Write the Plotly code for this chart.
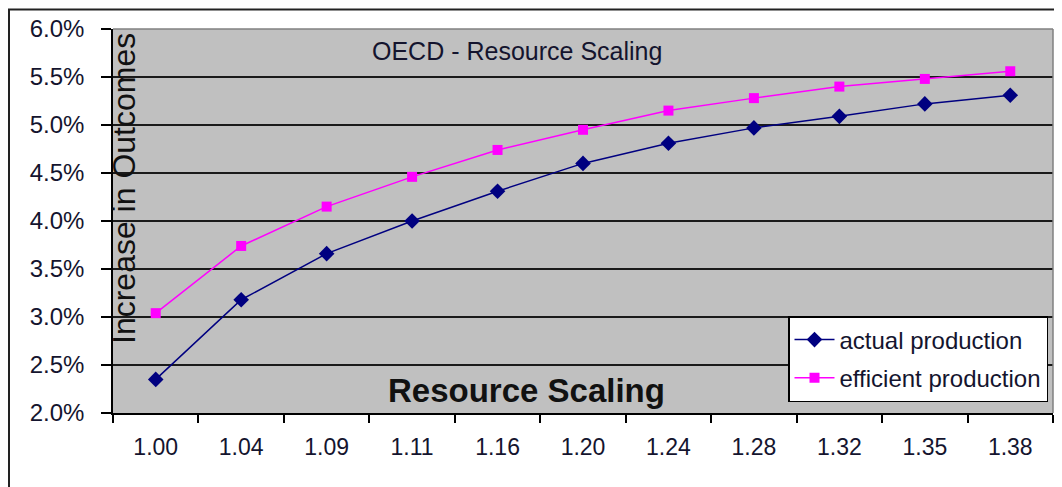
import plotly.graph_objects as go

categories = ["1.00", "1.04", "1.09", "1.11", "1.16", "1.20", "1.24", "1.28", "1.32", "1.35", "1.38"]
actual_production = [0.0235, 0.0318, 0.0366, 0.0400, 0.0431, 0.0460, 0.0481, 0.0497, 0.0509, 0.0522, 0.0531]
efficient_production = [0.0304, 0.0374, 0.0415, 0.0446, 0.0474, 0.0495, 0.0515, 0.0528, 0.0540, 0.0548, 0.0556]
y_ticks = [0.020, 0.025, 0.030, 0.035, 0.040, 0.045, 0.050, 0.055, 0.060]

FONT = "Arial, Liberation Sans, sans-serif"
TXT = "#14142e"

# page body has an 8px default margin; compensate so the chart lands where intended
OFF = 8
FW, FH = 1062 - OFF, 487 - OFF

fig = go.Figure()
fig.add_trace(go.Scatter(
    x=categories, y=actual_production, name="actual production",
    mode="lines+markers", legendgroup="a",
    line=dict(color="#000080", width=1.5),
    marker=dict(symbol="diamond", size=12, color="#000080"),
))
fig.add_trace(go.Scatter(
    x=categories, y=efficient_production, name="efficient production",
    mode="lines+markers", legendgroup="b",
    line=dict(color="#FF00FF", width=1.5),
    marker=dict(symbol="square", size=10, color="#FF00FF"),
))

# target plot-area edges in page pixels
L, R, T, B = 113, 1053, 29, 413
W, H = R - L, B - T

def px(x):
    return (x - L) / W

def py(y):
    return (B - y) / H

fig.update_layout(
    width=FW, height=FH,
    margin=dict(l=L - OFF, r=(FW + OFF) - R, t=T - OFF, b=(FH + OFF) - B, pad=0),
    paper_bgcolor="white",
    plot_bgcolor="#C0C0C0",
    font=dict(family=FONT, color=TXT),
    showlegend=True,
    legend=dict(
        x=px(1048), xanchor="right", y=py(316), yanchor="top",
        bgcolor="white", bordercolor="black", borderwidth=1.5,
        font=dict(family=FONT, size=24, color=TXT),
        tracegroupgap=4, itemwidth=40,
    ),
    xaxis=dict(
        type="category", tickson="boundaries", automargin=False,
        showgrid=False, showline=True, linecolor="black", linewidth=1.5,
        ticks="outside", ticklen=8, tickcolor="black", tickwidth=1.5,
        tickfont=dict(family=FONT, size=23, color=TXT),
        ticklabelstandoff=13,
        range=[-0.5, 10.5], fixedrange=True,
    ),
    yaxis=dict(
        range=[0.02, 0.06], tickvals=y_ticks, tickformat=".1%", automargin=False,
        showgrid=True, gridcolor="#1a1a1a", gridwidth=1.5,
        showline=True, linecolor="black", linewidth=1.5,
        ticks="outside", ticklen=10, tickcolor="black", tickwidth=1.5,
        tickfont=dict(family=FONT, size=24, color=TXT),
        ticklabelstandoff=12,
        zeroline=False, fixedrange=True,
    ),
    annotations=[
        dict(text="OECD - Resource Scaling", xref="paper", yref="paper",
             x=px(517), y=py(51), xanchor="center", yanchor="middle",
             showarrow=False, font=dict(family=FONT, size=25, color=TXT)),
        dict(text="<b>Resource Scaling</b>", xref="paper", yref="paper",
             x=px(526), y=py(390), xanchor="center", yanchor="middle",
             showarrow=False, font=dict(family=FONT, size=33, color="#111")),
        dict(text="Increase in Outcomes", xref="paper", yref="paper",
             x=px(124), y=py(189), xanchor="center", yanchor="middle",
             textangle=-90,
             showarrow=False, font=dict(family=FONT, size=32, color="#111")),
    ],
    shapes=[
        dict(type="line", xref="paper", yref="paper", x0=0, x1=1, y0=1, y1=1,
             line=dict(color="#808080", width=1.5), layer="above"),
        dict(type="line", xref="paper", yref="paper", x0=1, x1=1, y0=0, y1=1,
             line=dict(color="#808080", width=1.5), layer="above"),
        dict(type="rect", xref="paper", yref="paper",
             x0=px(9), x1=px(1075), y0=py(500), y1=py(9.5),
             line=dict(color="#222", width=2), layer="above"),
    ],
)

fig.write_html("out.html")
